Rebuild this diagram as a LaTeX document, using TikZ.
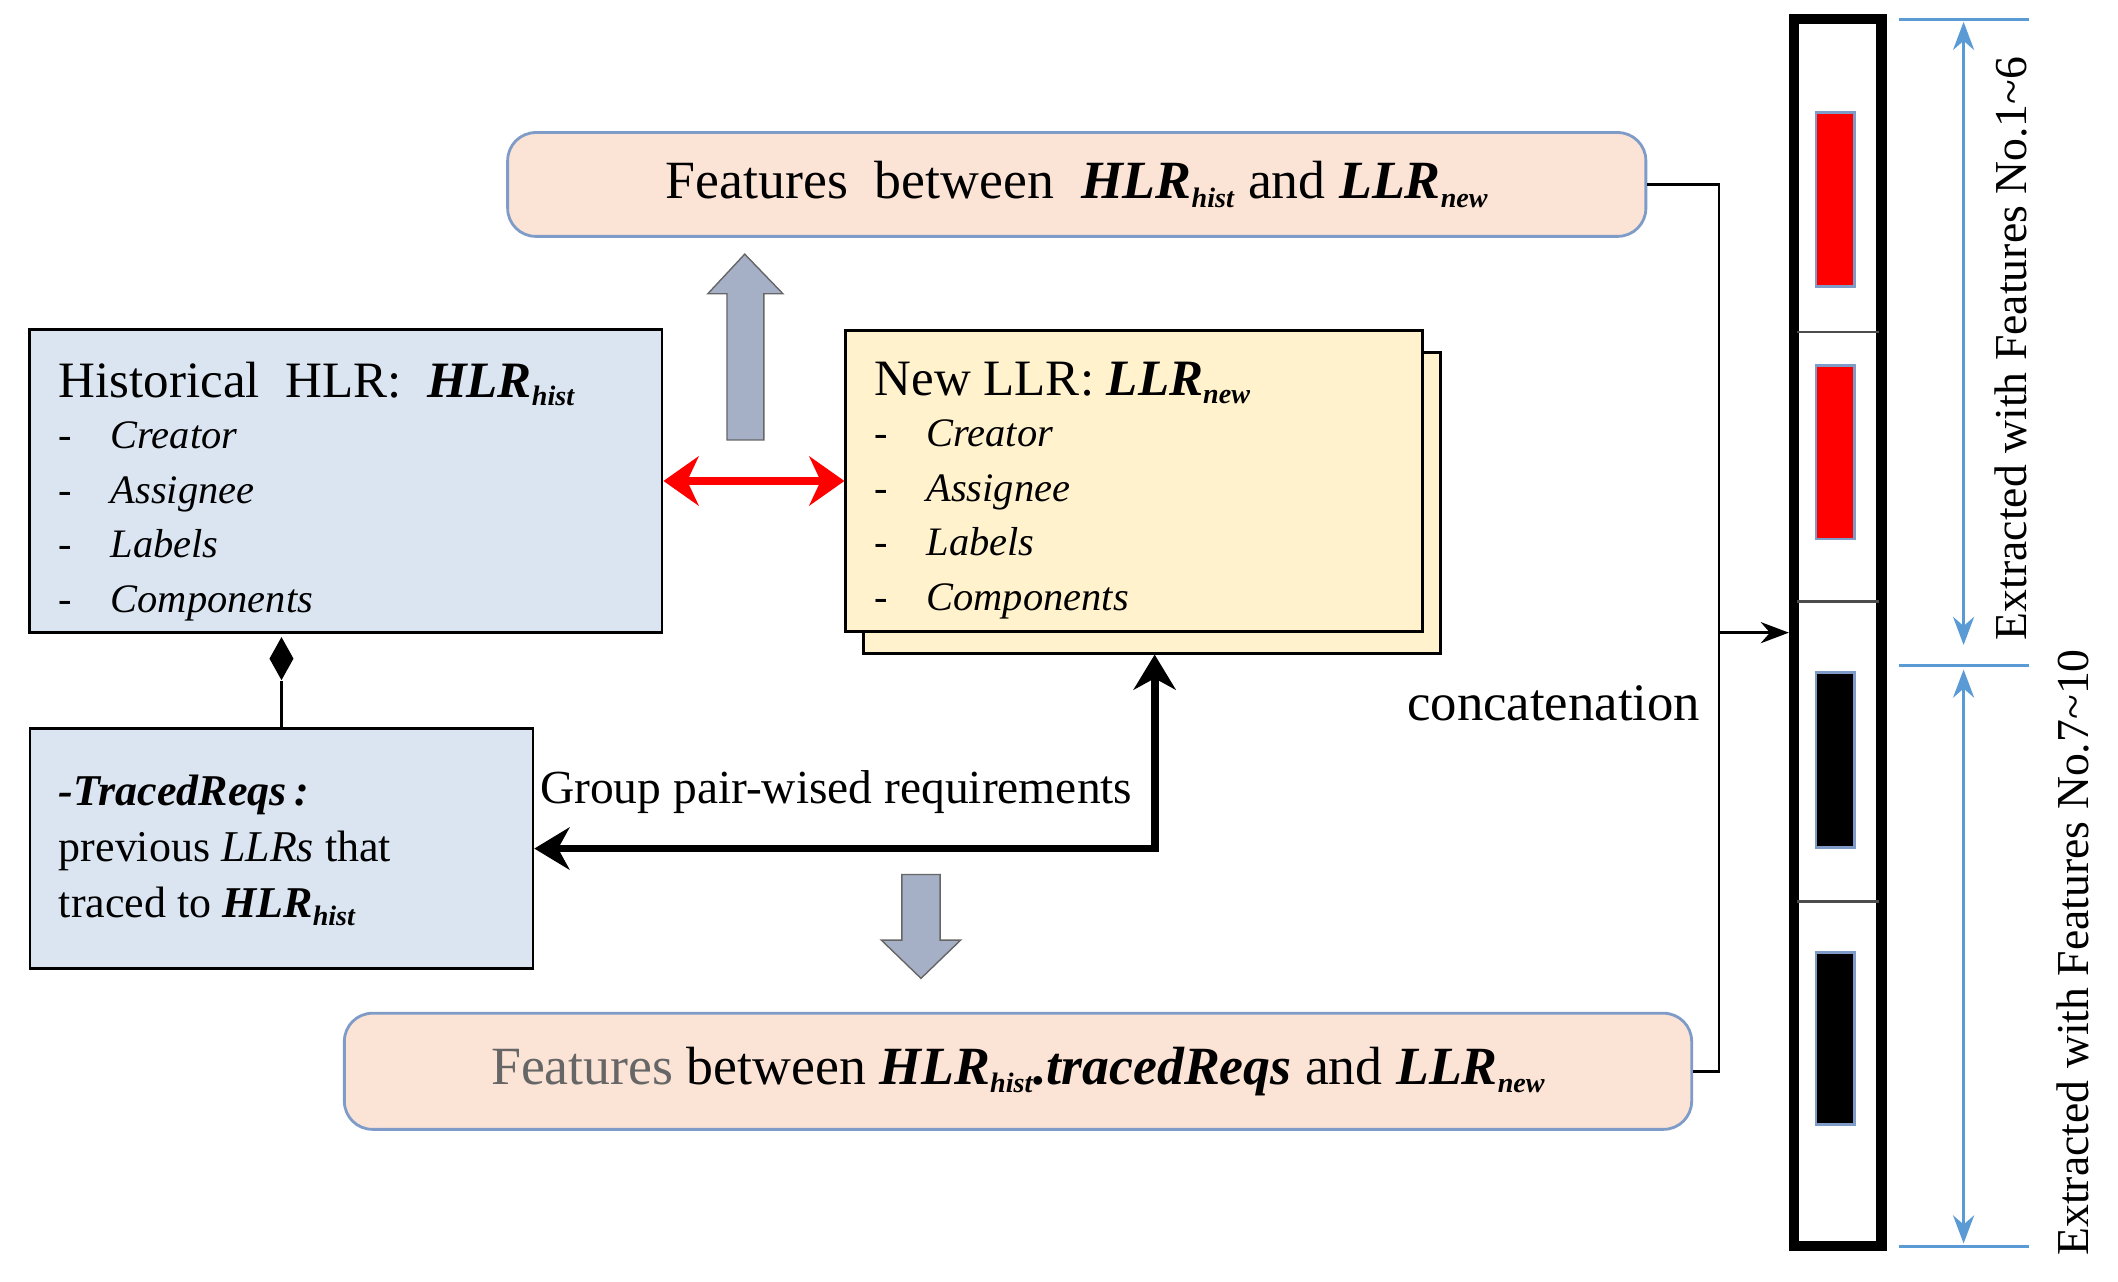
\documentclass[tikz,border=0pt]{standalone}
\usepackage{fontspec}
\setmainfont{Liberation Serif}
\usetikzlibrary{arrows.meta,shapes.geometric}
\definecolor{peach}{HTML}{FBE3D6}
\definecolor{lblue}{HTML}{DAE5F1}
\definecolor{lyel}{HTML}{FFF2CC}
\definecolor{bord}{HTML}{7F9CC8}
\definecolor{dim}{HTML}{5B9BD5}
\definecolor{garr}{HTML}{A5B0C6}
\tikzset{
 feat/.style={draw=bord,thick,fill=peach,rounded corners=8pt},
 ent/.style={draw=black,thick},
 cell/.style={draw=bord,thick},
 big/.style={font=\fontsize{15.3}{18}\selectfont},
 lst/.style={font=\fontsize{11.5}{15.5}\selectfont},
 txt/.style={font=\fontsize{12.5}{16}\selectfont},
 blk/.style={draw=black!60,fill=garr},
}
\newcommand{\HLR}{\textbf{\textit{HLR}}}
\newcommand{\LLR}{\textbf{\textit{LLR}}}
\newcommand{\sbx}[1]{\raisebox{-0.35ex}{\fontsize{8}{8}\selectfont\textbf{\textit{#1}}}}
\newcommand{\itm}[1]{-\hspace{0.95em}\textit{#1}}
\begin{document}
\begin{tikzpicture}[x=0.01366cm,y=-0.01366cm]
\useasboundingbox (0,0) rectangle (1550,938);
% feature boxes
\node[feat,minimum width=833*0.01366cm,minimum height=76*0.01366cm,big] (top) at (788,135) {Features\ \ between\ \ \HLR\sbx{hist} and \LLR\sbx{new}};
\node[feat,minimum width=986*0.01366cm,minimum height=85*0.01366cm,big] (bot) at (745,784) {\textcolor{gray!80!black}{Features} between \HLR\sbx{hist}\textbf{\textit{.tracedReqs}} and \LLR\sbx{new}};
% historical
\node[ent,fill=lblue,minimum width=463*0.01366cm,minimum height=222*0.01366cm] (hist) at (253,352) {};
\node[anchor=north west,lst,align=left] (histt) at (34,256) {{\fontsize{14.5}{17}\selectfont Historical\ \ HLR:\ \ \HLR\sbx{hist}}\\[-1pt]
\itm{Creator}\\ \itm{Assignee}\\ \itm{Labels}\\ \itm{Components}};
% traced
\node[ent,fill=lblue,minimum width=368*0.01366cm,minimum height=176*0.01366cm] (tr) at (206,621) {};
\node[anchor=north west,txt,align=left] (trt) at (34,558) {\textbf{\textit{-TracedReqs\,:}}\\ previous \textit{LLRs} that\\ traced to \HLR\sbx{hist}};
% new LLR
\node[ent,fill=lyel,minimum width=422*0.01366cm,minimum height=220*0.01366cm] (llr2) at (843,368) {};
\node[ent,fill=lyel,minimum width=422*0.01366cm,minimum height=220*0.01366cm] (llr) at (830,352) {};
\node[anchor=north west,lst,align=left] (llrt) at (631,256) {{\fontsize{14.5}{17}\selectfont New LLR:\ \LLR\sbx{new}}\\[-1pt]
\itm{Creator}\\ \itm{Assignee}\\ \itm{Labels}\\ \itm{Components}};
% red arrow
\draw[red,line width=2pt,{Stealth[length=10pt,width=14pt]}-{Stealth[length=10pt,width=14pt]}] (hist.east) -- (llr.west);
% diamond
\node[diamond,fill=black,inner sep=0pt,minimum width=18*0.01366cm,minimum height=32*0.01366cm] (dia) at (206,482) {};
\draw[thick] (dia.south) -- (tr.north);
% group arrow
\coordinate (corner) at (845,621);
\draw[line width=2.2pt,{Stealth[length=10pt,width=12pt]}-{Stealth[length=10pt,width=12pt]}] (tr.east) -- (corner) -- (llr2.south -| corner);
\node[font=\fontsize{13.5}{16}\selectfont] (grp) at (612,580) {Group pair-wised requirements};
% gray block arrows
\draw[blk] (532,322) -- (532,215) -- (518,215) -- (545,186) -- (573,215) -- (559,215) -- (559,322) -- cycle;
\draw[blk] (660,640) -- (660,688) -- (645,688) -- (674,716) -- (703,688) -- (688,688) -- (688,640) -- cycle;
% right bar
\node[draw=black,line width=3pt,minimum width=64*0.01366cm,minimum height=898*0.01366cm,inner sep=0pt] (bar) at (1345,463) {};
\foreach \yy in {243,440,660}{\draw[black!70,thick] (1315,\yy) -- (1375,\yy);}
\node[cell,fill=red,minimum width=28*0.01366cm,minimum height=127*0.01366cm,inner sep=0pt] (c1) at (1343,146) {};
\node[cell,fill=red,minimum width=28*0.01366cm,minimum height=127*0.01366cm,inner sep=0pt] (c2) at (1343,331) {};
\node[cell,fill=black,minimum width=28*0.01366cm,minimum height=128*0.01366cm,inner sep=0pt] (c3) at (1343,556) {};
\node[cell,fill=black,minimum width=28*0.01366cm,minimum height=126*0.01366cm,inner sep=0pt] (c4) at (1343,760) {};
% concatenation
\coordinate (j) at (1258,463);
\draw[thick] (top.east) -| (j);
\draw[thick] (bot.east) -| (j);
\draw[thick,-{Stealth[length=8pt]}] (j) -- (bar.west |- j);
\node[font=\fontsize{15}{18}\selectfont] (cc) at (1137,515) {concatenation};
% dimension
\draw[dim,thick] (1390,14) -- (1485,14) (1390,487) -- (1485,487) (1390,912) -- (1485,912);
\draw[dim,thick,{Stealth[length=8pt]}-{Stealth[length=8pt]}] (1437,16) -- (1437,472);
\draw[dim,thick,{Stealth[length=8pt]}-{Stealth[length=8pt]}] (1437,490) -- (1437,910);
\node[rotate=90,font=\fontsize{13}{16}\selectfont] (e1) at (1472,255) {Extracted with Features No.1\textasciitilde 6};
\node[rotate=90,font=\fontsize{13}{16}\selectfont] (e2) at (1517,697) {Extracted with Features No.7\textasciitilde 10};
\end{tikzpicture}
\end{document}
